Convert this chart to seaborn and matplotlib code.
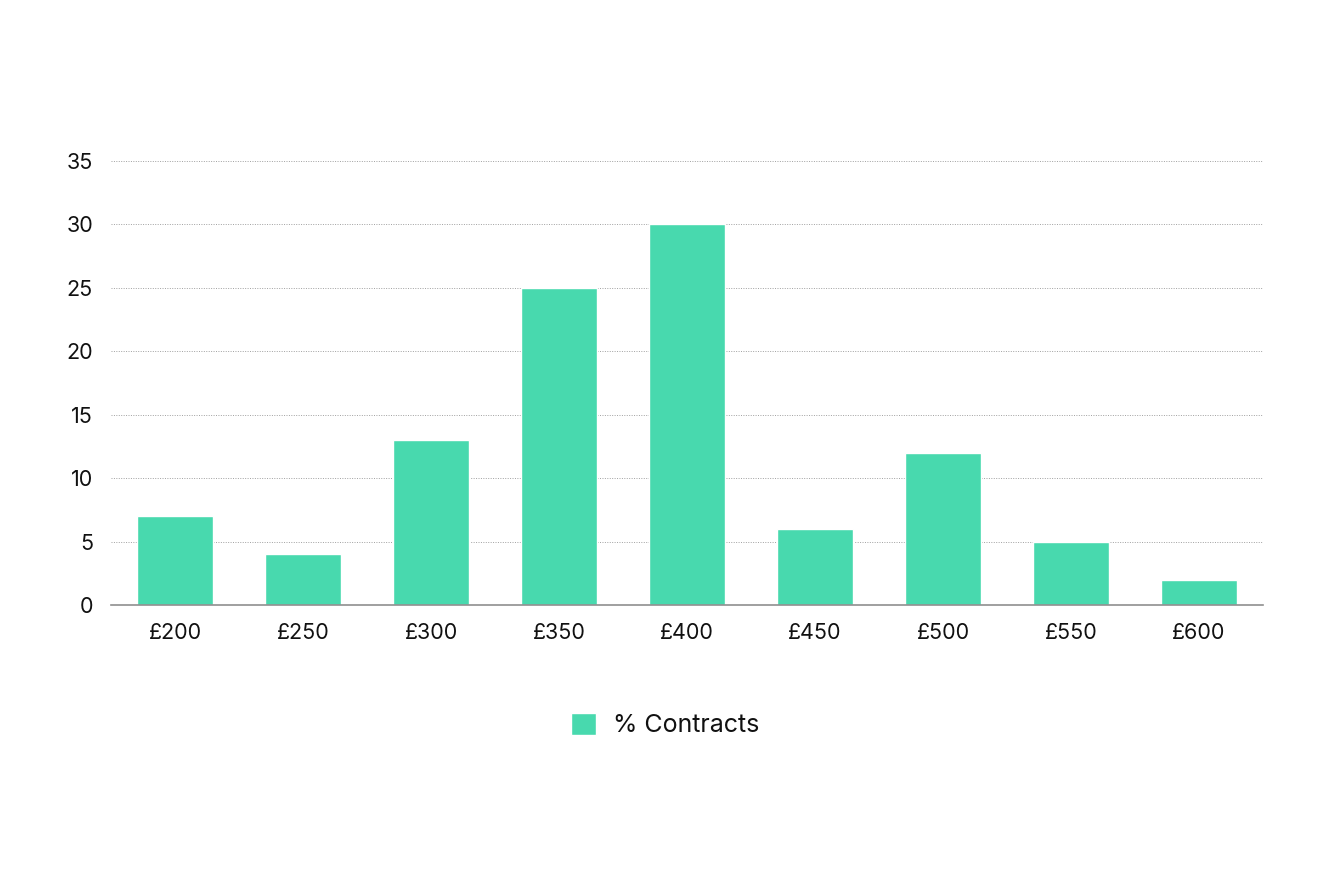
import matplotlib
matplotlib.use("Agg")
import matplotlib.pyplot as plt
import seaborn as sns
import pandas as pd

# data
prices = ["£200", "£250", "£300", "£350", "£400", "£450", "£500", "£550", "£600"]
pct_contracts = [7, 4, 13, 25, 30, 6, 12, 5, 2]
y_ticks = [0, 5, 10, 15, 20, 25, 30, 35]

bar_color = "#48D9AE"

sns.set_style("white")
plt.rcParams["font.family"] = ["Inter", "DejaVu Sans"]

df = pd.DataFrame({"price": prices, "pct": pct_contracts})

fig = plt.figure(figsize=(13.3, 8.75), dpi=100)
ax = fig.add_axes([111 / 1330, 1 - 605 / 875, 1152 / 1330, 444 / 875])

sns.barplot(data=df, x="price", y="pct", color=bar_color, width=0.59,
            saturation=1, ax=ax, label="% Contracts", zorder=3)

ax.set_ylim(0, 35)
ax.set_yticks(y_ticks)
ax.set_xlim(-0.5, len(prices) - 0.5)
ax.yaxis.grid(True, linestyle=(0, (1, 1.5)), color="#a0a0a0", linewidth=0.7, zorder=0)
ax.xaxis.grid(False)

for side in ["top", "right", "left"]:
    ax.spines[side].set_visible(False)
ax.spines["bottom"].set_color("#8f8f8f")
ax.spines["bottom"].set_linewidth(1.2)
ax.spines["bottom"].set_zorder(4)

ax.tick_params(axis="y", length=0, pad=13, labelsize=15.5, labelcolor="#111111")
ax.tick_params(axis="x", length=0, pad=13, labelsize=15.5, labelcolor="#111111")
ax.set_xlabel("")
ax.set_ylabel("")

leg = ax.legend(loc="center", bbox_to_anchor=(0.5, 1 - 725 / 875), bbox_transform=fig.transFigure,
                frameon=False, fontsize=18, handlelength=1.0, handleheight=1.0, handletextpad=0.7,
                labelcolor="#111111")

fig.savefig("out.png", dpi=100, facecolor="white")
